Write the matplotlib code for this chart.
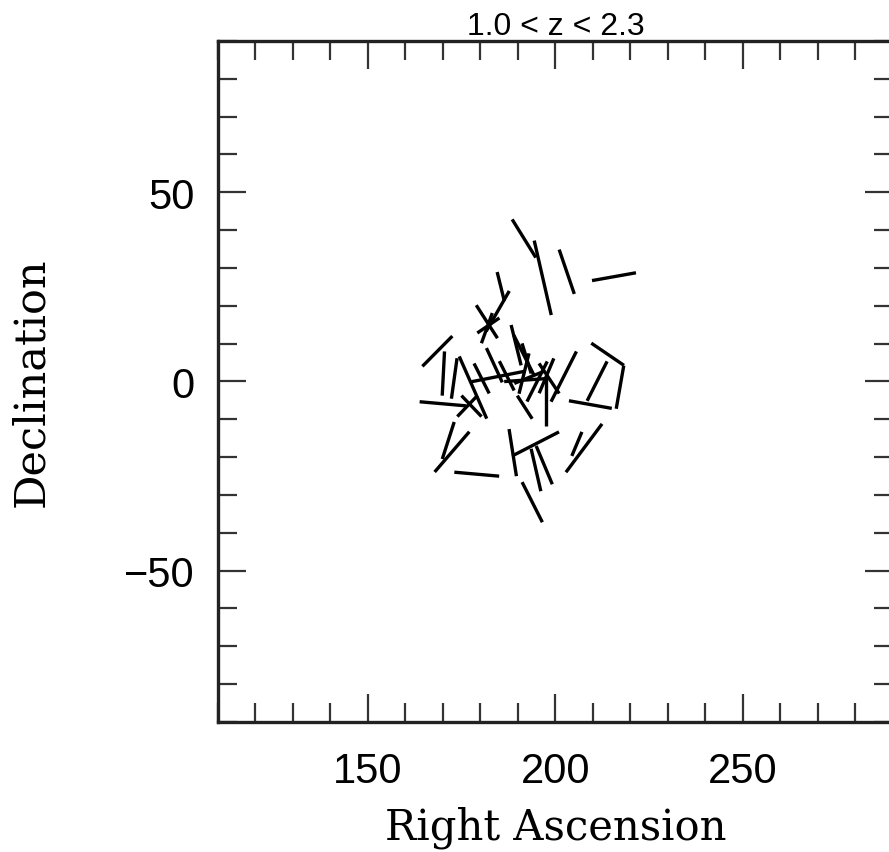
import numpy as np
import matplotlib
matplotlib.use("Agg")
import matplotlib.pyplot as plt
from matplotlib.collections import LineCollection
from matplotlib.ticker import MultipleLocator

# quasar positions (deg), polarization position angle (deg, from north) and vector length (deg)
ra = [191.6, 196.6, 203.0, 215.6, 185.4, 184.6, 181.7, 182.1, 168.5, 170.1,
      173.0, 178.0, 189.5, 187.0, 170.0, 176.5, 177.6, 184.6, 191.6, 192.3,
      195.1, 202.2, 197.5, 213.9, 217.2, 211.1, 209.3, 193.0, 191.8, 172.4,
      171.4, 179.0, 188.6, 194.7, 194.8, 197.0, 193.8, 207.6, 205.7, 192.3,
      180.3, 198.3, 183.7, 191.6, 197.6, 181.7]
dec = [37.8, 27.4, 29.0, 27.7, 25.1, 18.6, 15.8, 14.8, 8.0, 2.1,
       0.8, -1.6, 9.6, 1.5, -5.9, -6.5, -6.5, 1.3, 6.9, 6.1,
       0.0, 1.3, -5.5, 7.2, -1.5, 0.1, -6.1, 1.1, -6.8, -18.6,
       -15.6, -24.5, -18.8, -16.5, -23.4, -22.1, -31.9, -17.6, -16.5, 0.4,
       0.8, 0.8, 4.3, 2.1, 1.5, 14.1]
pa = [148, 167, 161, 80, 166, 30, 147, 56, 45, 3,
      8, 156, 166, 153, 95, 44, 136, 79, 153, 163,
      27, 27, 0, 124, 10, 27, 100, 68, 147, 41,
      18, 95, 171, 63, 167, 157, 153, 37, 23, 86,
      153, 146, 155, 14, 23, 20]
length = [11.9, 20.2, 12.4, 11.9, 7.9, 12.3, 10.4, 7.1, 11.3, 11.7,
          10.8, 18.0, 11.0, 8.7, 12.5, 7.7, 7.7, 14.3, 11.9, 8.3,
          11.9, 14.9, 12.5, 10.5, 11.6, 11.7, 11.6, 8.6, 7.3, 14.1,
          10.3, 12.0, 12.6, 14.0, 11.5, 11.0, 11.9, 16.0, 6.9, 12.0,
          8.9, 9.6, 10.0, 11.0, 10.0, 8.5]

ra = np.array(ra)
dec = np.array(dec)
theta = np.radians(pa)
half = np.array(length) / 2
dx = half * np.sin(theta)
dy = half * np.cos(theta)
segs = np.stack([np.column_stack([ra - dx, dec - dy]),
                 np.column_stack([ra + dx, dec + dy])], axis=1)

fig = plt.figure(figsize=(8.89, 8.53), dpi=100)
ax = fig.add_axes([0.2452, 0.1524, 0.7593, 0.7984])

ax.add_collection(LineCollection(segs, colors="black", linewidths=2.4))

ax.set_xlim(110, 290)
ax.set_ylim(-90, 90)
ax.xaxis.set_major_locator(MultipleLocator(50))
ax.xaxis.set_minor_locator(MultipleLocator(10))
ax.yaxis.set_major_locator(MultipleLocator(50))
ax.yaxis.set_minor_locator(MultipleLocator(10))
ax.tick_params(which="both", direction="in", top=True, right=True,
               color="#333333", width=1.6)
ax.tick_params(which="major", length=20.5)
ax.tick_params(which="minor", length=13.5)
ax.tick_params(axis="x", which="major", pad=21)
ax.tick_params(axis="y", which="major", pad=17)
for lab in ax.get_xticklabels() + ax.get_yticklabels():
    lab.set_family("Liberation Sans")
    lab.set_fontsize(30)
for sp in ax.spines.values():
    sp.set_linewidth(2.4)
    sp.set_color("#222222")

ax.set_xlabel("Right Ascension", family="DejaVu Serif", fontsize=30)
ax.set_ylabel("Declination", family="DejaVu Serif", fontsize=31)
ax.xaxis.set_label_coords(0.5, -0.122)
ax.yaxis.set_label_coords(-0.245, 0.5)
ax.set_title("1.0 < z < 2.3", family="Liberation Sans", fontsize=23, pad=5)

fig.savefig("out.png", dpi=100)
